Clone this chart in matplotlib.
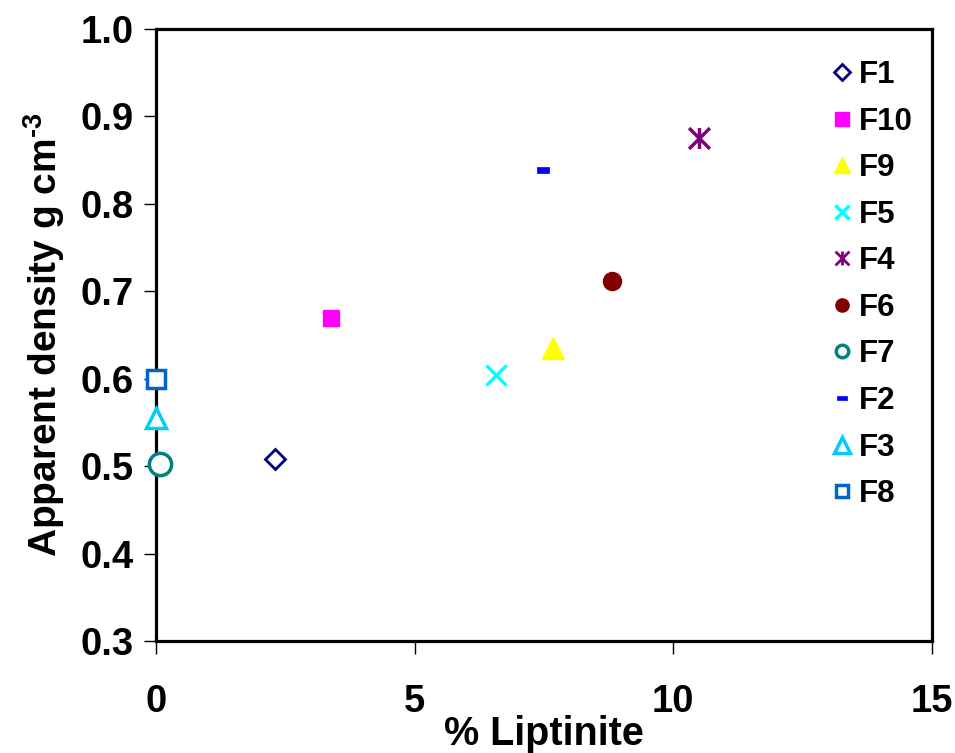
import matplotlib
matplotlib.use('Agg')
import matplotlib.pyplot as plt
from matplotlib.path import Path

plt.rcParams['font.family'] = ['Liberation Sans', 'DejaVu Sans']
plt.rcParams['font.weight'] = 'bold'
plt.rcParams['mathtext.fontset'] = 'custom'
plt.rcParams['mathtext.rm'] = 'Liberation Sans:bold'
plt.rcParams['mathtext.bf'] = 'Liberation Sans:bold'

# samples, in legend order
labels = ['F1', 'F10', 'F9', 'F5', 'F4', 'F6', 'F7', 'F2', 'F3', 'F8']
liptinite = [2.3, 3.38, 7.68, 6.58, 10.5, 8.82, 0.08, 7.49, 0.0, 0.0]
density = [0.508, 0.670, 0.635, 0.604, 0.875, 0.712, 0.503, 0.839, 0.555, 0.600]

x_ticks = [0, 5, 10, 15]
y_ticks = [0.3, 0.4, 0.5, 0.6, 0.7, 0.8, 0.9, 1.0]

dash = [(-1, -0.5), (1, -0.5), (1, 0.5), (-1, 0.5), (-1, -0.5)]
# excel style star: an x with a vertical bar through it
star = Path([(0, -1), (0, 1), (-1, -1), (1, 1), (-1, 1), (1, -1)],
            [Path.MOVETO, Path.LINETO] * 3)

# marker, colour, size, legend size, filled, edge width
styles = {
    'F1': ('D', '#000080', 10.5, 8, False, 2.0),
    'F10': ('s', '#FF00FF', 11, 9.5, True, 1.0),
    'F9': ('^', '#FFFF00', 16, 12, True, 1.0),
    'F5': ('x', '#00FFFF', 14, 10, True, 2.5),
    'F4': (star, '#800080', 15, 10, True, 2.5),
    'F6': ('o', '#800000', 13, 9.5, True, 1.0),
    'F7': ('o', '#008080', 16, 9, False, 2.5),
    'F2': (dash, '#0000FF', 9, 7, True, 0.5),
    'F3': ('^', '#00CCFF', 15, 11.5, False, 2.5),
    'F8': ('s', '#0066CC', 12.5, 9, False, 2.5),
}

fig = plt.figure(figsize=(9.55, 7.53), dpi=100)
ax = fig.add_axes([0.1634, 0.1487, 0.8125, 0.8128])

for lab, xv, yv in zip(labels, liptinite, density):
    m, c, s, ls, filled, ew = styles[lab]
    ax.plot([xv], [yv], linestyle='none', marker=m, markersize=s,
            markeredgecolor=c, markerfacecolor=c if filled else 'white',
            markeredgewidth=ew, label=lab, clip_on=False, zorder=3)

ax.set_xlim(0, 15)
ax.set_ylim(0.3, 1.0)
ax.set_xticks(x_ticks)
ax.set_yticks(y_ticks)
ax.set_xticklabels([str(v) for v in x_ticks])
ax.set_yticklabels(['%.1f' % v for v in y_ticks])
ax.tick_params(axis='both', labelsize=27.5, width=1, length=9, direction='out')
ax.tick_params(axis='x', pad=22)
ax.tick_params(axis='y', pad=7)
for sp in ax.spines.values():
    sp.set_linewidth(2.3)

ax.set_xlabel('% Liptinite', fontsize=28.5, fontweight='bold', labelpad=-4)
ax.set_ylabel(r'Apparent density g cm$^{\text{-3}}$', fontsize=28, fontweight='bold', labelpad=10)

leg = ax.legend(loc='upper left', bbox_to_anchor=(0.855, 0.941), bbox_transform=fig.transFigure,
                frameon=False, fontsize=22.5, handlelength=0.6,
                handletextpad=0.25, labelspacing=0.53, borderpad=0)
for h, lab in zip(leg.legend_handles, labels):
    h.set_markersize(styles[lab][3])
    if lab == 'F4':
        h.set_markeredgewidth(2.0)

fig.savefig('out.png', dpi=100)
